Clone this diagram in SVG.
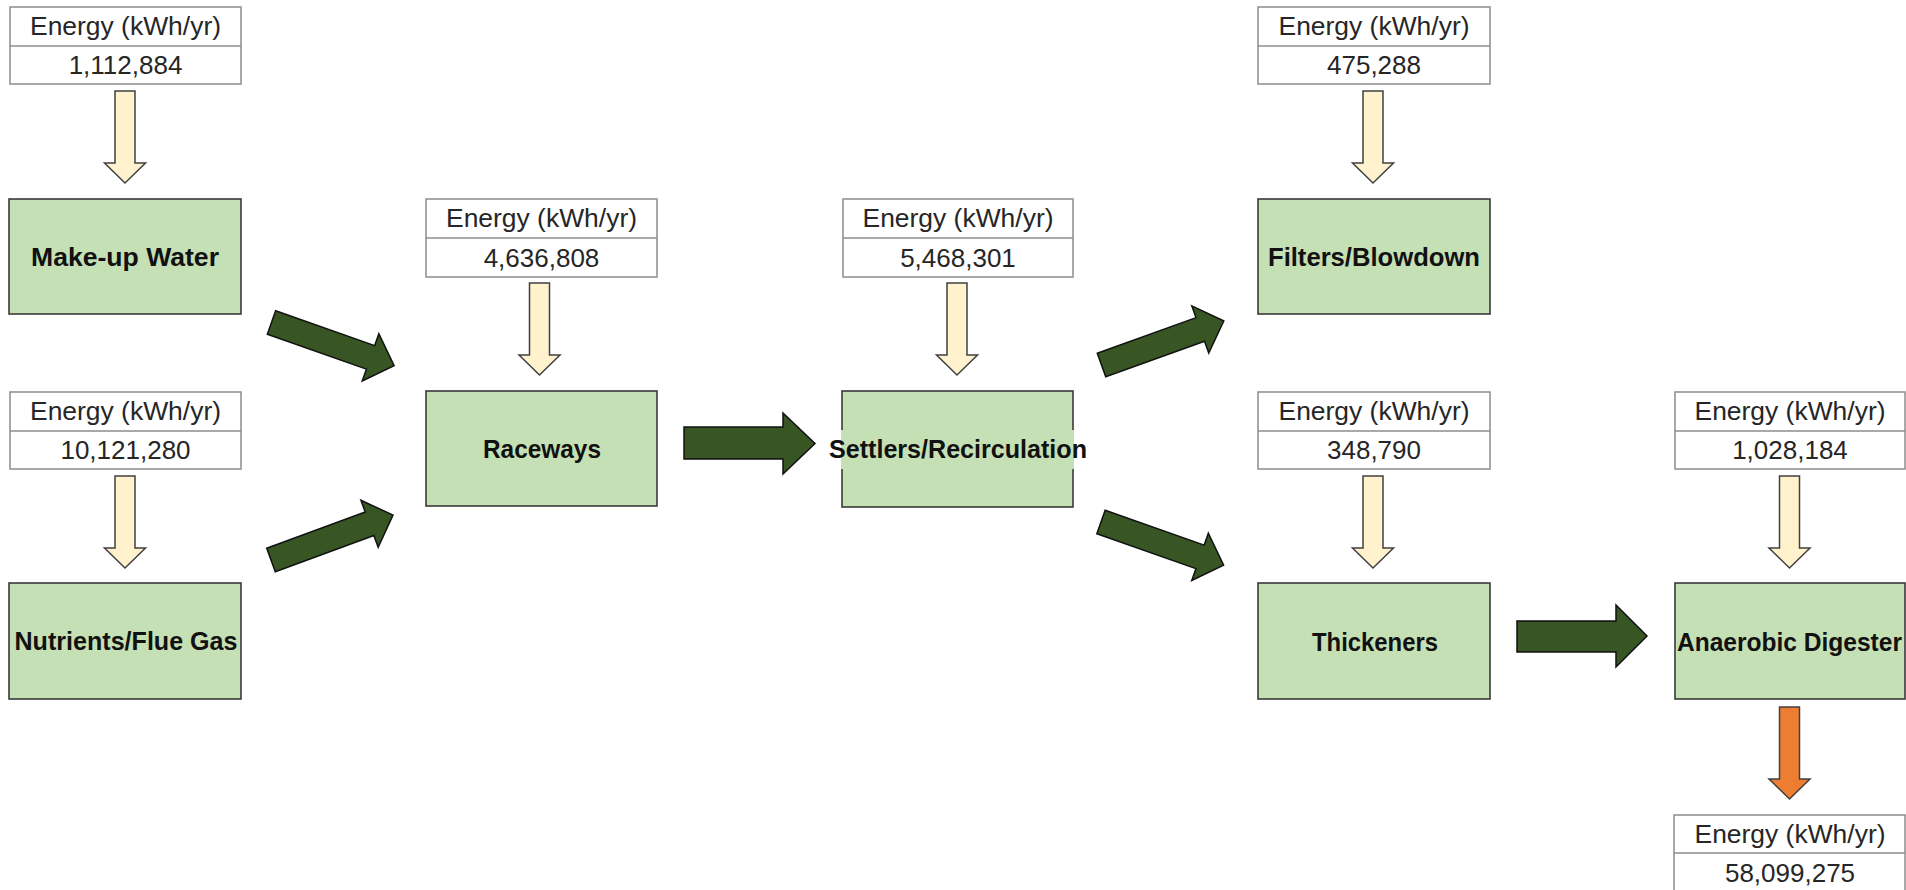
<svg xmlns="http://www.w3.org/2000/svg" width="1906" height="890" viewBox="0 0 1906 890">
<style>
.tbl{fill:#ffffff;stroke:#8c8c8c;stroke-width:1.5}
.div{stroke:#8c8c8c;stroke-width:1.5}
.tt{font-family:"Liberation Sans",Arial,sans-serif;font-size:26px;fill:#262626;text-anchor:middle}
.box{fill:#c5e0b4;stroke:#3a3a3a;stroke-width:1.6}
.bt{font-family:"Liberation Sans",Arial,sans-serif;font-size:25px;font-weight:bold;fill:#111111;text-anchor:middle}
.ya{fill:#fff2cc;stroke:#404040;stroke-width:1.5;stroke-linejoin:miter}
.oa{fill:#ed7d31;stroke:#404040;stroke-width:1.5}
.ga{fill:#375623;stroke:#111111;stroke-width:1.5;stroke-linejoin:miter}
</style>
<defs>
<path id="down" d="M-10,0 H10 V72 H20.5 L0,92 L-20.5,72 H-10 Z"/>
<path id="diag" d="M0,-12.5 L105,-12.5 L105,-25 L130,0 L105,25 L105,12.5 L0,12.5 Z"/>
</defs>

<g id="connectors">
<use href="#down" class="ya" x="125" y="91"/>
<use href="#down" class="ya" x="125" y="476"/>
<use href="#down" class="ya" x="539.5" y="283"/>
<use href="#down" class="ya" x="957" y="283"/>
<use href="#down" class="ya" x="1373" y="91"/>
<use href="#down" class="ya" x="1373" y="476"/>
<use href="#down" class="ya" x="1789.5" y="476"/>
<use href="#down" class="oa" x="1789.5" y="707"/>
<use href="#diag" class="ga" transform="translate(271.5,322.5) rotate(19.4)"/>
<use href="#diag" class="ga" transform="translate(271,560) rotate(-20.2)"/>
<use href="#diag" class="ga" transform="translate(1101.5,365) rotate(-19.8)"/>
<use href="#diag" class="ga" transform="translate(1101,522) rotate(19.4)"/>
<path class="ga" d="M684,427 H783 V413 L815,443.5 L783,474 V459 H684 Z"/>
<path class="ga" d="M1517,621 H1616 V605 L1647,636 L1616,667 V652 H1517 Z"/>
</g>

<g id="energy-makeup">
<rect class="tbl" x="10" y="7" width="231" height="77"/>
<line class="div" x1="10" y1="46" x2="241" y2="46"/>
<text class="tt" x="125.5" y="35" textLength="191" lengthAdjust="spacingAndGlyphs">Energy (kWh/yr)</text>
<text class="tt" x="125.5" y="74">1,112,884</text>
</g>
<g id="energy-nutrients">
<rect class="tbl" x="10" y="392" width="231" height="77"/>
<line class="div" x1="10" y1="431" x2="241" y2="431"/>
<text class="tt" x="125.5" y="420" textLength="191" lengthAdjust="spacingAndGlyphs">Energy (kWh/yr)</text>
<text class="tt" x="125.5" y="459">10,121,280</text>
</g>
<g id="energy-raceways">
<rect class="tbl" x="426" y="199" width="231" height="78"/>
<line class="div" x1="426" y1="238" x2="657" y2="238"/>
<text class="tt" x="541.5" y="227" textLength="191" lengthAdjust="spacingAndGlyphs">Energy (kWh/yr)</text>
<text class="tt" x="541.5" y="267">4,636,808</text>
</g>
<g id="energy-settlers">
<rect class="tbl" x="843" y="199" width="230" height="78"/>
<line class="div" x1="843" y1="238" x2="1073" y2="238"/>
<text class="tt" x="958" y="227" textLength="191" lengthAdjust="spacingAndGlyphs">Energy (kWh/yr)</text>
<text class="tt" x="958" y="267">5,468,301</text>
</g>
<g id="energy-filters">
<rect class="tbl" x="1258" y="7" width="232" height="77"/>
<line class="div" x1="1258" y1="46" x2="1490" y2="46"/>
<text class="tt" x="1374" y="35" textLength="191" lengthAdjust="spacingAndGlyphs">Energy (kWh/yr)</text>
<text class="tt" x="1374" y="74">475,288</text>
</g>
<g id="energy-thickeners">
<rect class="tbl" x="1258" y="392" width="232" height="77"/>
<line class="div" x1="1258" y1="431" x2="1490" y2="431"/>
<text class="tt" x="1374" y="420" textLength="191" lengthAdjust="spacingAndGlyphs">Energy (kWh/yr)</text>
<text class="tt" x="1374" y="459">348,790</text>
</g>
<g id="energy-digester">
<rect class="tbl" x="1675" y="392" width="230" height="77"/>
<line class="div" x1="1675" y1="431" x2="1905" y2="431"/>
<text class="tt" x="1790" y="420" textLength="191" lengthAdjust="spacingAndGlyphs">Energy (kWh/yr)</text>
<text class="tt" x="1790" y="459">1,028,184</text>
</g>
<g id="energy-output">
<rect class="tbl" x="1674" y="815" width="231" height="80"/>
<line class="div" x1="1674" y1="853" x2="1905" y2="853"/>
<text class="tt" x="1790" y="843" textLength="191" lengthAdjust="spacingAndGlyphs">Energy (kWh/yr)</text>
<text class="tt" x="1790" y="882">58,099,275</text>
</g>

<g id="makeup-water">
<rect class="box" x="9" y="199" width="232" height="115"/>
<text class="bt" x="125" y="266" textLength="188" lengthAdjust="spacingAndGlyphs">Make-up Water</text>
</g>
<g id="nutrients">
<rect class="box" x="9" y="583" width="232" height="116"/>
<text class="bt" x="126" y="650" textLength="223" lengthAdjust="spacingAndGlyphs">Nutrients/Flue Gas</text>
</g>
<g id="raceways">
<rect class="box" x="426" y="391" width="231" height="115"/>
<text class="bt" x="542" y="458" textLength="118" lengthAdjust="spacingAndGlyphs">Raceways</text>
</g>
<g id="settlers">
<rect class="box" x="842" y="391" width="231" height="116"/>
<rect x="841" y="430" width="233" height="39" fill="#c5e0b4"/>
<text class="bt" x="958" y="458" textLength="258" lengthAdjust="spacingAndGlyphs">Settlers/Recirculation</text>
</g>
<g id="filters">
<rect class="box" x="1258" y="199" width="232" height="115"/>
<text class="bt" x="1374" y="266" textLength="212" lengthAdjust="spacingAndGlyphs">Filters/Blowdown</text>
</g>
<g id="thickeners">
<rect class="box" x="1258" y="583" width="232" height="116"/>
<text class="bt" x="1375" y="651" textLength="126" lengthAdjust="spacingAndGlyphs">Thickeners</text>
</g>
<g id="digester">
<rect class="box" x="1675" y="583" width="230" height="116"/>
<text class="bt" x="1789.5" y="651" textLength="225" lengthAdjust="spacingAndGlyphs">Anaerobic Digester</text>
</g>
</svg>
